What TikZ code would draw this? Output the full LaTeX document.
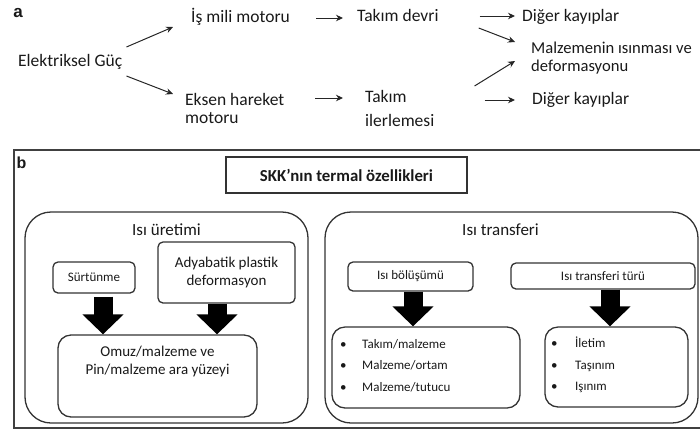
\documentclass[tikz,border=0pt]{standalone}
\usepackage{fontspec}
\setmainfont{Carlito}
\newfontfamily\panelfont{Liberation Sans}
\usetikzlibrary{arrows.meta, positioning}

\begin{document}
\begin{tikzpicture}[
    x=1pt, y=-1pt,
    every node/.style={inner sep=0pt, text=black!90},
    flowtext/.style={font=\fontsize{17.5}{18}\selectfont, align=left, anchor=base west},
    flow/.style={-{Stealth[length=7pt, width=6.5pt]}, line width=1pt, black!85},
    paneltag/.style={font=\panelfont\bfseries\fontsize{17}{19}\selectfont},
    headbox/.style={draw=black!80, line width=1.4pt, minimum width=241pt, minimum height=36pt, font=\bfseries\fontsize{16.8}{19}\selectfont},
    groupbox/.style={draw=black!80, line width=1.3pt, rounded corners=26pt},
    grouptitle/.style={font=\fontsize{17}{19}\selectfont},
    smallbox/.style={draw=black!80, line width=1.3pt, rounded corners=5pt, align=center},
    listbox/.style={draw=black!80, line width=1.3pt, rounded corners=13pt},
    listtext/.style={font=\fontsize{13}{21.5}\selectfont, align=left, anchor=north west},
    bigarrow/.style={line width=19pt, -{Triangle[width=40pt, length=20pt]}, black}
  ]
  \useasboundingbox (0,0) rectangle (700,432);

  % panel a: energy flow
  \node[paneltag] (taga) at (18,13) {a};
  \node[flowtext] (elek) at (18,66) {Elektriksel Güç};
  \node[flowtext] (ismili) at (191,22.5) {İş mili motoru};
  \node[flowtext] (eksen) at (185,123) {Eksen hareket\\motoru};
  \node[flowtext] (takdevri) at (357,21.5) {Takım devri};
  \node[flowtext, font=\fontsize{17.5}{24}\selectfont] (takiler) at (365,126) {Takım\\ilerlemesi};
  \node[flowtext] (diger1) at (522,21) {Diğer kayıplar};
  \node[flowtext, font=\fontsize{16.6}{18}\selectfont] (malz) at (531,71) {Malzemenin ısınması ve\\deformasyonu};
  \node[flowtext] (diger2) at (532,104.5) {Diğer kayıplar};

  \draw[flow] ([shift={(4,-19)}]elek.base east) -- ([shift={(-18,4.5)}]ismili.base west);
  \draw[flow] ([shift={(4,10)}]elek.base east) -- ([shift={(-12,-29)}]eksen.base west);
  \draw[flow] ([shift={(26,-4.5)}]ismili.base east) -- ([shift={(-14,-3.5)}]takdevri.base west);
  \draw[flow] ([shift={(31,-25)}]eksen.base east) -- ([shift={(-22,-28)}]takiler.base west);
  \draw[flow] ([shift={(41,-5.5)}]takdevri.base east) -- ([shift={(-7,-5)}]diger1.base west);
  \draw[flow] ([shift={(40,6.5)}]takdevri.base east) -- ([shift={(-16,-29)}]malz.base west);
  \draw[flow] ([shift={(40,-40)}]takiler.base east) -- ([shift={(-16,-10)}]malz.base west);
  \draw[flow] ([shift={(50,-26)}]takiler.base east) -- ([shift={(-17,-4.5)}]diger2.base west);

  % panel b: thermal properties
  \draw[black!75, line width=1.5pt] (700,150) -- (14,150) -- (14,428) -- (700,428);
  \node[paneltag, font=\panelfont\bfseries\fontsize{16}{18}\selectfont] (tagb) at (21.5,162.5) {b};
  \node[headbox] (thermal) at (346.5,175) {SKK’nın termal özellikleri};

  \node[groupbox, minimum width=283pt, minimum height=211pt] (uretim) at (166.5,317.5) {};
  \node[grouptitle, below=12pt of uretim.north] (uretimtitle) {Isı üretimi};
  \node[groupbox, minimum width=373pt, minimum height=211pt] (transfer) at (511.5,317.5) {};
  \node[grouptitle, below=12pt of transfer.north, xshift=-11pt] (transfertitle) {Isı transferi};

  \node[smallbox, minimum width=82pt, minimum height=31pt, font=\fontsize{13}{15}\selectfont] (surt) at (94,277.5) {Sürtünme};
  \node[smallbox, minimum width=137pt, minimum height=61pt, font=\fontsize{15}{18}\selectfont] (adya) at (226.5,272.5) {Adyabatik plastik\\deformasyon};
  \node[listbox, minimum width=199pt, minimum height=82pt] (omuz) at (157.5,376) {};
  \node[font=\fontsize{15}{18}\selectfont, align=center, below=12pt of omuz.north] (omuztext) {Omuz/malzeme ve\\Pin/malzeme ara yüzeyi};

  \node[smallbox, minimum width=125pt, minimum height=29pt, font=\fontsize{13}{15}\selectfont] (bolusum) at (410.5,276.5) {Isı bölüşümü};
  \node[smallbox, minimum width=184pt, minimum height=26pt, font=\fontsize{13}{15}\selectfont] (turu) at (603,276) {Isı transferi türü};
  \node[listbox, minimum width=188pt, minimum height=81pt] (ortam) at (426,367.5) {};
  \node[listtext] (ortamtext) at (340,339) {\makebox[22pt][l]{\textbullet}Takım/malzeme\\\makebox[22pt][l]{\textbullet}Malzeme/ortam\\\makebox[22pt][l]{\textbullet}Malzeme/tutucu};
  \node[listbox, minimum width=143pt, minimum height=80pt] (iletim) at (616.5,367) {};
  \node[listtext] (iletimtext) at (551,337) {\makebox[24pt][l]{\textbullet}İletim\\\makebox[24pt][l]{\textbullet}Taşınım\\\makebox[24pt][l]{\textbullet}Işınım};

  \coordinate (s1) at ([xshift=9pt, yshift=-3pt]surt.south);
  \coordinate (s2) at ([xshift=-9.5pt]adya.south);
  \coordinate (s3) at ([xshift=2.5pt]bolusum.south);
  \coordinate (s4) at ([xshift=7pt]turu.south);
  \draw[bigarrow] (s1) -- (s1 |- omuz.north);
  \draw[bigarrow] (s2) -- (s2 |- omuz.north);
  \draw[bigarrow] (s3) -- (s3 |- ortam.north);
  \draw[bigarrow] (s4) -- (s4 |- iletim.north);
\end{tikzpicture}
\end{document}
